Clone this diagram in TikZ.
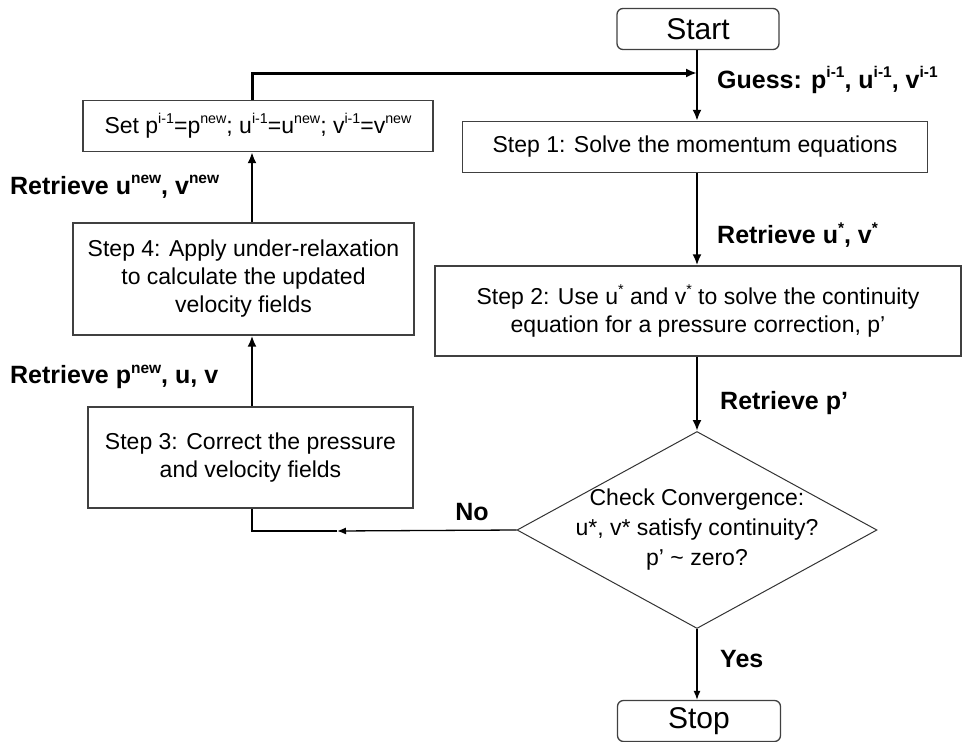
\documentclass[tikz,border=0pt]{standalone}
\usepackage{fontspec}
\setmainfont{Liberation Sans}
\usetikzlibrary{arrows.meta,shapes.geometric}
\newcommand{\upidx}[1]{\raisebox{0.42em}{\scalebox{0.62}{#1}}}
\tikzset{box/.style={rectangle, draw=black!75, line width=1.3pt, align=center, inner sep=0pt, font=\fontsize{23}{28}\selectfont},
  term/.style={box, rounded corners=6pt, font=\fontsize{30}{34}\selectfont},
  decision/.style={diamond, draw=black!80, line width=1pt, inner sep=0pt},
  plain/.style={align=center, inner sep=0pt, font=\fontsize{23}{30}\selectfont},
  lbl/.style={anchor=west, inner sep=0pt, font=\bfseries\fontsize{25}{28}\selectfont},
  flow/.style={line width=2.3pt, black},
  thinflow/.style={line width=1.3pt, black, -{Latex[length=9pt,width=7pt]}}}

\begin{document}
\begin{tikzpicture}[x=1pt, y=-1pt, >={Latex[length=11pt,width=9pt]}]
\useasboundingbox (0,0) rectangle (962,742);
% right column
\node[term, minimum width=162, minimum height=41] (start) at (698,29) {Start};
\node[box, minimum width=465, minimum height=51] (step1) at (695,147) {Step 1: Solve the momentum equations};
\node[box, minimum width=526, minimum height=90] (step2) at (698,311) {Step 2: Use u\upidx{*} and v\upidx{*} to solve the continuity\\equation for a pressure correction, p’};
\node[decision, minimum width=360, minimum height=197] (check) at (697,530) {};
\node[plain] (checktext) at (check) {Check Convergence:\\u*, v* satisfy continuity?\\p’ \textasciitilde{} zero?};
\node[term, minimum width=163, minimum height=41] (stop) at (699,721) {Stop};
% left column
\node[box, minimum width=350, minimum height=51] (set) at (258,126) {Set p\upidx{i-1}=p\upidx{new}; u\upidx{i-1}=u\upidx{new}; v\upidx{i-1}=v\upidx{new}};
\node[box, minimum width=341, minimum height=112] (step4) at (243.5,279) {Step 4: Apply under-relaxation\\to calculate the updated\\velocity fields};
\node[box, minimum width=325, minimum height=101] (step3) at (250.5,457.5) {Step 3: Correct the pressure\\and velocity fields};
% labels
\node[lbl] (guess) at (717,80) {Guess: p\upidx{i-1}, u\upidx{i-1}, v\upidx{i-1}};
\node[lbl] (getstar) at (717,235) {Retrieve u\upidx{*}, v\upidx{*}};
\node[lbl] (getp) at (720,403) {Retrieve p’};
\node[lbl] (getnew) at (10,187) {Retrieve u\upidx{new}, v\upidx{new}};
\node[lbl] (getpnew) at (10,377) {Retrieve p\upidx{new}, u, v};
\node[lbl, anchor=center] (no) at (472,512) {No};
\node[lbl] (yes) at (720,659) {Yes};
% connectors
\coordinate (turn) at (252,73);
\coordinate (join) at (697,73);
\coordinate (nomid) at (337,531);
\draw[flow,->] (start.south -| join) -- (step1.north -| join);
\draw[flow,->] (step1.south -| join) -- (step2.north -| join);
\draw[flow,->] (step2.south -| join) -- (check.north);
\draw[thinflow] (check.south) -- (stop.north -| check.south);
\draw[thinflow] (check.west) -- (nomid);
\draw[line width=1.3pt] (nomid) -| (step3.south -| turn);
\draw[flow,->] (step3.north -| turn) -- (step4.south -| turn);
\draw[flow,->] (step4.north -| turn) -- (set.south -| turn);
\draw[flow, line width=3pt,->] (set.north -| turn) -- (turn) -- (join);
\end{tikzpicture}
\end{document}
